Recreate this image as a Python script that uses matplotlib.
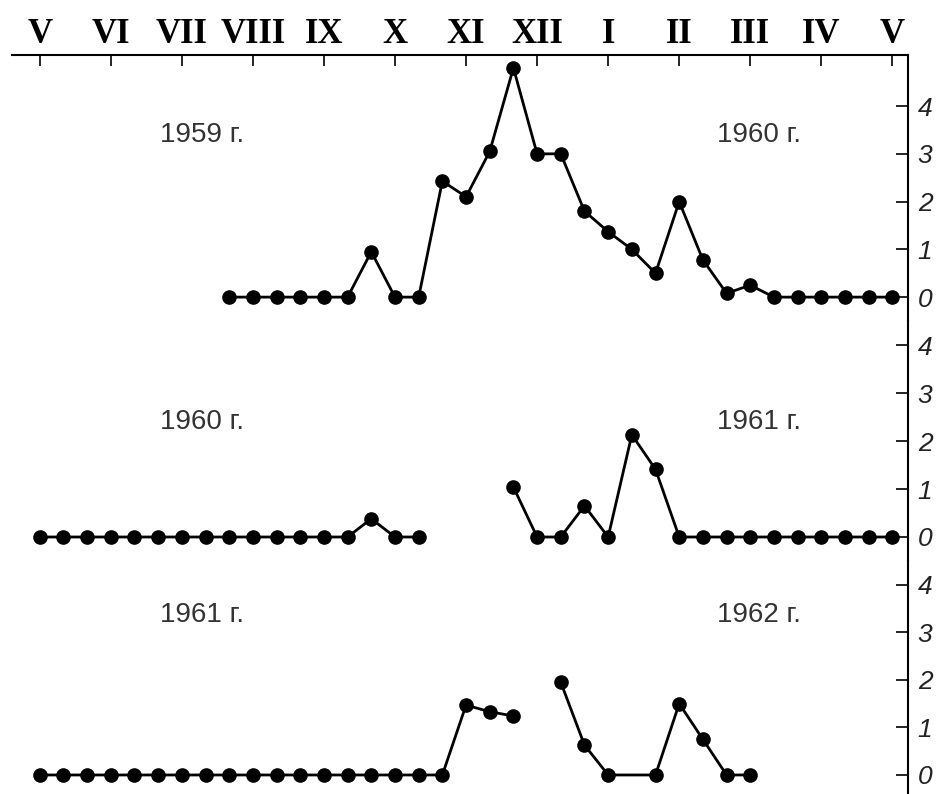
import numpy as np
import matplotlib.pyplot as plt

# month labels along the top, V (May) to V (next May)
months = ['V', 'VI', 'VII', 'VIII', 'IX', 'X', 'XI', 'XII', 'I', 'II', 'III', 'IV', 'V']

# observations per dekad (3 per month, 0 = start of May)
p1_dek = [8, 9, 10, 11, 12, 13, 14, 15, 16, 17, 18, 19, 20, 21, 22,
          23, 24, 25, 26, 27, 28, 29, 30, 31, 32, 33, 34, 35, 36]
p1_val = [0, 0, 0, 0, 0, 0, 0.95, 0, 0, 2.43, 2.1, 3.05, 4.8, 3.0, 3.0,
          1.8, 1.37, 1.0, 0.5, 2.0, 0.78, 0.08, 0.25, 0, 0, 0, 0, 0, 0]

p2a_dek = [0, 1, 2, 3, 4, 5, 6, 7, 8, 9, 10, 11, 12, 13, 14, 15, 16]
p2a_val = [0, 0, 0, 0, 0, 0, 0, 0, 0, 0, 0, 0, 0, 0, 0.38, 0, 0]
p2b_dek = [20, 21, 22, 23, 24, 25, 26, 27, 28, 29, 30, 31, 32, 33, 34, 35, 36]
p2b_val = [1.04, 0, 0, 0.65, 0, 2.13, 1.41, 0, 0, 0, 0, 0, 0, 0, 0, 0, 0]

p3a_dek = [0, 1, 2, 3, 4, 5, 6, 7, 8, 9, 10, 11, 12, 13, 14, 15, 16, 17, 18, 19, 20]
p3a_val = [0, 0, 0, 0, 0, 0, 0, 0, 0, 0, 0, 0, 0, 0, 0, 0, 0, 0, 1.47, 1.33, 1.24]
p3b_dek = [22, 23, 24, 26, 27, 28, 29, 30]
p3b_val = [1.95, 0.63, 0, 0, 1.5, 0.75, 0, 0]

years = [('1959 г.', '1960 г.'), ('1960 г.', '1961 г.'), ('1961 г.', '1962 г.')]
year_y = [3.4, 2.4, 3.37]

panels = [[(p1_dek, p1_val)],
          [(p2a_dek, p2a_val), (p2b_dek, p2b_val)],
          [(p3a_dek, p3a_val), (p3b_dek, p3b_val)]]
ylims = [(-0.5, 5.07), (-0.5, 4.5), (-0.4, 4.5)]

fig = plt.figure(figsize=(9.4, 7.94), dpi=100)
gs = fig.add_gridspec(3, 1, height_ratios=[266, 240, 233], hspace=0,
                      left=12 / 940, right=908 / 940, top=1 - 55 / 794, bottom=0)

for i, segs in enumerate(panels):
    ax = fig.add_subplot(gs[i])
    for dek, val in segs:
        ax.plot(np.array(dek) / 3, val, color='black', lw=2.0,
                marker='o', ms=9.5, mfc='black', mec='black')
    ax.set_xlim(-0.39, 12.22)
    ax.set_ylim(*ylims[i])

    for s in ['left', 'bottom']:
        ax.spines[s].set_visible(False)
    ax.spines['right'].set_linewidth(1.5)
    ax.spines['top'].set_linewidth(1.5)
    ax.spines['top'].set_visible(i == 0)

    ax.yaxis.tick_right()
    ax.set_yticks([0, 1, 2, 3, 4])
    ax.set_yticklabels(['0', '1', '2', '3', '4'], fontsize=19, style='italic',
                       family='Liberation Sans', color='#222222')
    ax.tick_params(axis='y', direction='in', length=9, width=1.2, pad=7)

    if i == 0:
        ax.xaxis.tick_top()
        ax.set_xticks(range(13))
        ax.set_xticklabels(months, fontsize=25, fontweight='bold',
                           family='Liberation Serif')
        ax.tick_params(axis='x', direction='in', length=8, width=1.2, pad=3)
    else:
        ax.set_xticks([])

    left, right = years[i]
    ax.text(1.69, year_y[i], left, fontsize=20, family='Liberation Sans',
            color='#333333', ha='left', va='center')
    ax.text(9.53, year_y[i], right, fontsize=20, family='Liberation Sans',
            color='#333333', ha='left', va='center')

fig.savefig('out.png', dpi=100)
